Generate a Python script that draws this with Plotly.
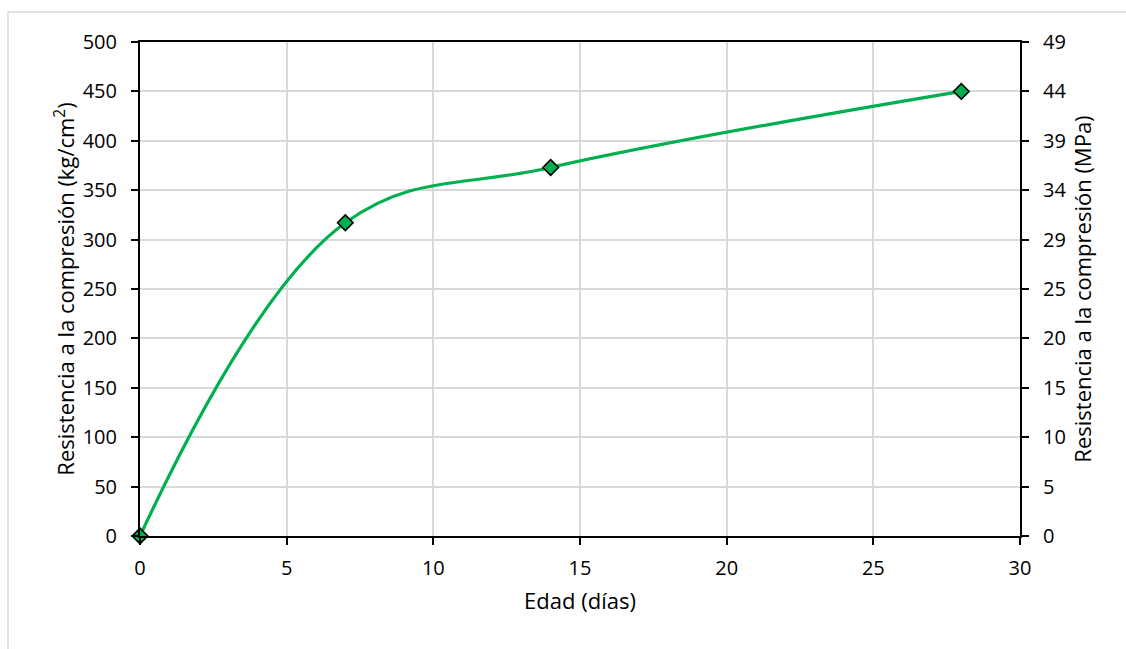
import plotly.graph_objects as go

# Edad (días) y resistencia a la compresión (kg/cm²)
edad_dias = [0, 7, 14, 28]
resistencia_kg_cm2 = [0, 317, 373, 450]

KG_CM2_TO_MPA = 0.0980665
resistencia_mpa = [v * KG_CM2_TO_MPA for v in resistencia_kg_cm2]

left_ticks = list(range(0, 501, 50))
right_tickvals = [v * KG_CM2_TO_MPA for v in left_ticks]
right_ticktext = [str(int(round(v))) for v in right_tickvals]

GREEN = "#00B050"
FONT = "Open Sans, Liberation Sans, sans-serif"

fig = go.Figure()

fig.add_trace(go.Scatter(
    x=edad_dias, y=resistencia_kg_cm2,
    mode="lines+markers",
    line=dict(color=GREEN, width=3.2, shape="spline", smoothing=1.1),
    marker=dict(symbol="diamond", size=12, color=GREEN,
                line=dict(color="black", width=1.6)),
    showlegend=False, cliponaxis=False,
))

# same series in MPa on the secondary axis (invisible, keeps axis active)
fig.add_trace(go.Scatter(
    x=edad_dias, y=resistencia_mpa, yaxis="y2",
    mode="lines", line=dict(color="rgba(0,0,0,0)"),
    hoverinfo="skip", showlegend=False,
))

axis_common = dict(
    showline=True, linecolor="black", linewidth=2,
    ticks="outside", ticklen=7, tickwidth=2, tickcolor="black",
    tickfont=dict(size=20, color="black", family=FONT),
    zeroline=False,
)

fig.update_layout(
    width=1126, height=649,
    margin=dict(l=140, r=106, t=42, b=113),
    paper_bgcolor="white", plot_bgcolor="white",
    font=dict(family=FONT, color="black"),
    xaxis=dict(
        range=[0, 30], tickvals=list(range(0, 31, 5)),
        showgrid=True, gridcolor="#D9D9D9", gridwidth=1.5,
        ticklabelstandoff=6,
        title=dict(text="Edad (días)", font=dict(size=22, family=FONT), standoff=14),
        mirror=True,
        **axis_common,
    ),
    yaxis=dict(
        range=[0, 500], tickvals=left_ticks,
        showgrid=True, gridcolor="#D9D9D9", gridwidth=1.5,
        ticklabelstandoff=10,
        title=dict(text="Resistencia a la compresión (kg/cm<sup>2</sup>)",
                   font=dict(size=22, family=FONT), standoff=2),
        **axis_common,
    ),
    yaxis2=dict(
        range=[0, 500 * KG_CM2_TO_MPA], overlaying="y", side="right",
        tickvals=right_tickvals, ticktext=right_ticktext,
        showgrid=False,
        ticklabelstandoff=10,
        title=dict(text="Resistencia a la compresión (MPa)",
                   font=dict(size=22, family=FONT), standoff=10),
        **axis_common,
    ),
    shapes=[
        # chart frame (left and top edges)
        dict(type="line", xref="paper", yref="paper",
             x0=(8 - 140) / 880, x1=(1130 - 140) / 880,
             y0=1 + (42 - 12) / 494, y1=1 + (42 - 12) / 494,
             line=dict(color="#D9D9D9", width=1.5)),
        dict(type="line", xref="paper", yref="paper",
             x0=(8 - 140) / 880, x1=(8 - 140) / 880,
             y0=1 + (42 - 12) / 494, y1=-(660 - 536) / 494,
             line=dict(color="#D9D9D9", width=1.5)),
    ],
)

fig.write_html("out.html")
